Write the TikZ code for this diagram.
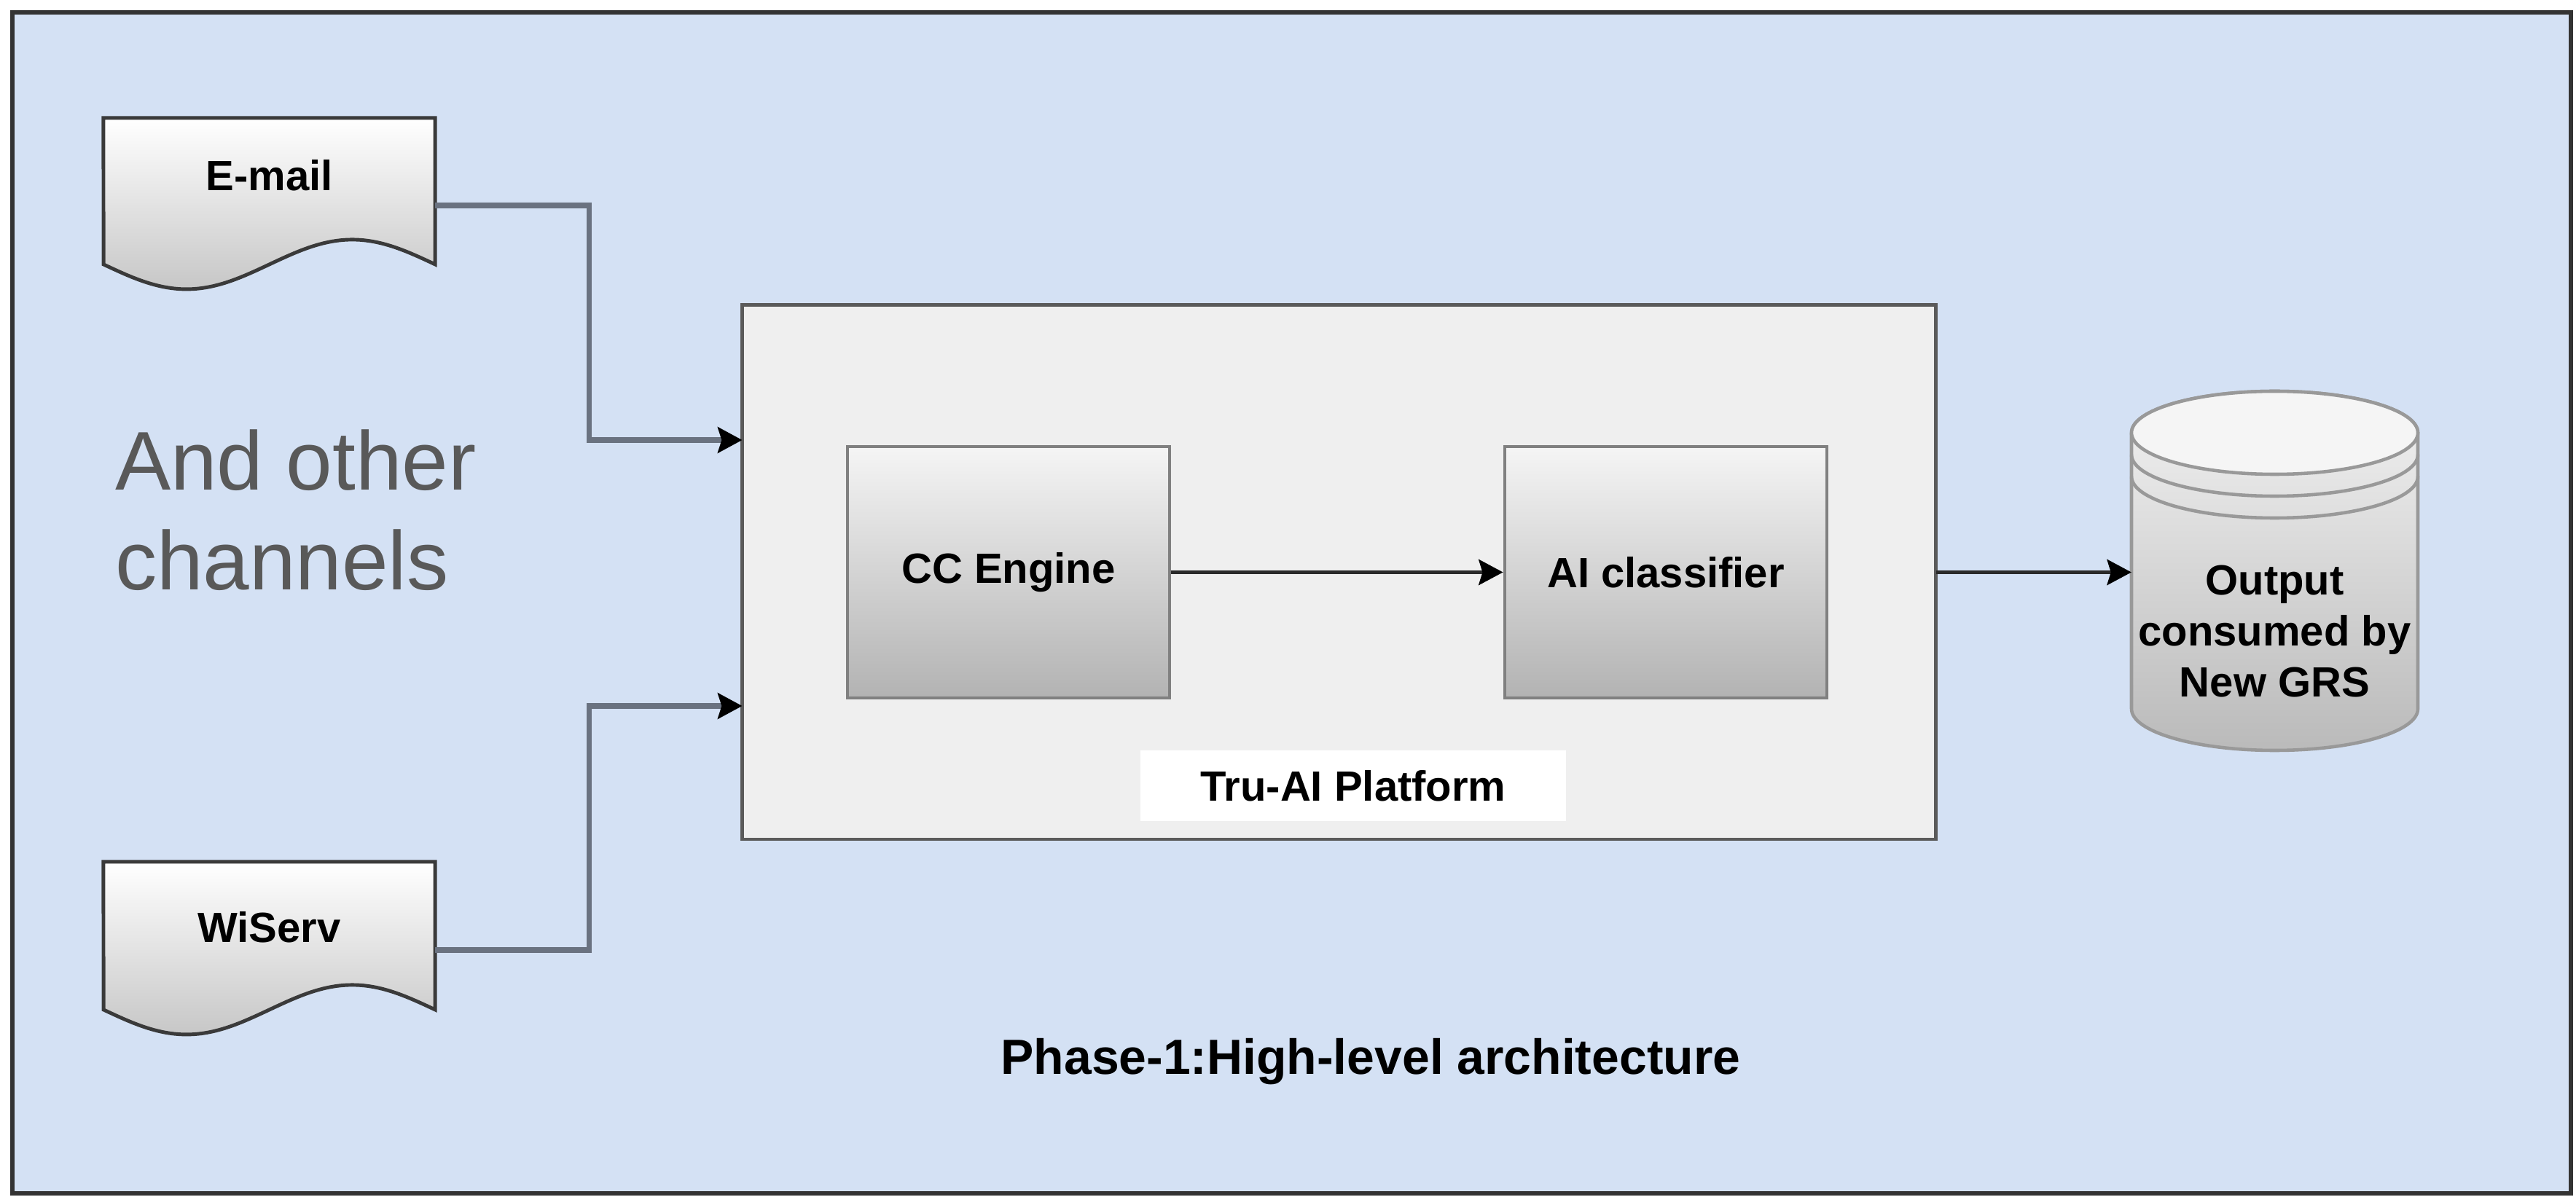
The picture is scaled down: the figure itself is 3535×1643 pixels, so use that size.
\documentclass[tikz,border=0pt]{standalone}
\usepackage{fontspec}
\setmainfont{Liberation Sans}
\usetikzlibrary{arrows.meta,calc,shapes.geometric}
\definecolor{bgblue}{HTML}{D4E1F4}
\definecolor{framec}{HTML}{333333}
\definecolor{docline}{HTML}{3A3A3A}
\definecolor{platline}{HTML}{5A5A5A}
\definecolor{platfill}{HTML}{EFEFEF}
\definecolor{procline}{HTML}{808080}
\definecolor{connc}{HTML}{6A7280}
\definecolor{flowc}{HTML}{2A2A2A}
\definecolor{bigtext}{HTML}{595959}
\definecolor{cylline}{HTML}{999999}
\tikzset{
  tip/.style={-{Stealth[length=9.5pt,width=10pt,inset=1.5pt,color=black]}},
  conn/.style={draw=connc,line width=2pt,tip},
  flow/.style={draw=flowc,line width=1.4pt,tip},
  docbox/.style={draw=docline,line width=1.4pt,top color=white,bottom color=black!22},
  procbox/.style={draw=procline,line width=1.3pt,top color=black!4,bottom color=black!30,
    minimum width=4.42cm,minimum height=3.45cm,inner sep=0pt,
    font=\fontsize{16.5}{19.8}\selectfont\bfseries},
  lbl/.style={font=\fontsize{16.5}{19.8}\selectfont\bfseries,text=black,inner sep=0pt},
  ghost/.style={inner sep=0pt,outer sep=0pt},
}
\begin{document}
\begin{tikzpicture}[x=0.01cm,y=-0.01cm]
\useasboundingbox (0,0) rectangle (3535,1643);
\fill[white] (0,0) rectangle (3535,1643);
% outer frame
\draw[draw=framec,line width=1.5pt,fill=bgblue] (17,17) rectangle (3528,1638);

% document shapes (invisible frames for anchors)
\node[ghost,minimum width=4.55cm,minimum height=2.40cm] (email) at (369.5,282) {};
\node[ghost,minimum width=4.55cm,minimum height=2.42cm] (wiserv) at (369.5,1304) {};
\draw[docbox] (email.north west) -- (email.north east) -- ++(0,201)
  sin ++(-113.75,-34) cos ++(-113.75,34) sin ++(-113.75,34) cos ++(-113.75,-34) -- cycle;
\draw[docbox] (wiserv.north west) -- (wiserv.north east) -- ++(0,203)
  sin ++(-113.75,-34) cos ++(-113.75,34) sin ++(-113.75,34) cos ++(-113.75,-34) -- cycle;
\node[lbl] (emailtxt) at (369.5,241) {E-mail};
\node[lbl] (wiservtxt) at (369.5,1273) {WiServ};

% big text
\node[ghost,anchor=north west,align=left,text=bigtext,
  font=\fontsize{32.5}{39}\selectfont] (other) at (158,590) {And other\\channels};

% platform
\node[ghost,draw=platline,line width=1.3pt,fill=platfill,minimum width=16.37cm,minimum height=7.33cm]
  (platform) at (1837.5,785.5) {};
\node[procbox] (cc) at (1384,785.5) {CC Engine};
\node[procbox] (ai) at (2286,785.5) {AI classifier};
\node[lbl,fill=white,minimum width=5.84cm,minimum height=0.97cm] (tru) at (1857,1078.5) {Tru-AI Platform};

% cylinder
\node[ghost,minimum width=3.93cm,minimum height=4.93cm] (db) at (3121.5,783.5) {};
\draw[draw=cylline,line width=1.3pt,top color=black!5,bottom color=black!27]
  (2925,594) -- (2925,973) arc[start angle=180,end angle=360,x radius=196.5,y radius=-57]
  -- (3318,594) arc[start angle=0,end angle=180,x radius=196.5,y radius=-57] -- cycle;
\draw[draw=cylline,line width=1.3pt,fill=black!4] (3121.5,594) ellipse[x radius=196.5,y radius=57];
\draw[draw=cylline,line width=1.3pt] (2925,624) arc[start angle=180,end angle=360,x radius=196.5,y radius=-57];
\draw[draw=cylline,line width=1.3pt] (2925,654) arc[start angle=180,end angle=360,x radius=196.5,y radius=-57];
\node[lbl,align=center,font=\fontsize{16.5}{19.9}\selectfont\bfseries] (dbtxt) at (3121.5,867)
  {Output\\consumed by\\New GRS};

% connectors
\draw[conn] (email.east) -- ++(211,0) |- ($(platform.west)+(0,-181.5)$);
\draw[conn] (wiserv.east) -- ++(211,0) |- ($(platform.west)+(0,183.5)$);
\draw[flow] (cc.east) -- (ai.west);
\draw[flow] (platform.east) -- (db.west |- platform.east);

% caption
\node[ghost,font=\fontsize{19.3}{23}\selectfont\bfseries] (caption) at (1881,1457)
  {Phase-1:High-level architecture};
\end{tikzpicture}
\end{document}
